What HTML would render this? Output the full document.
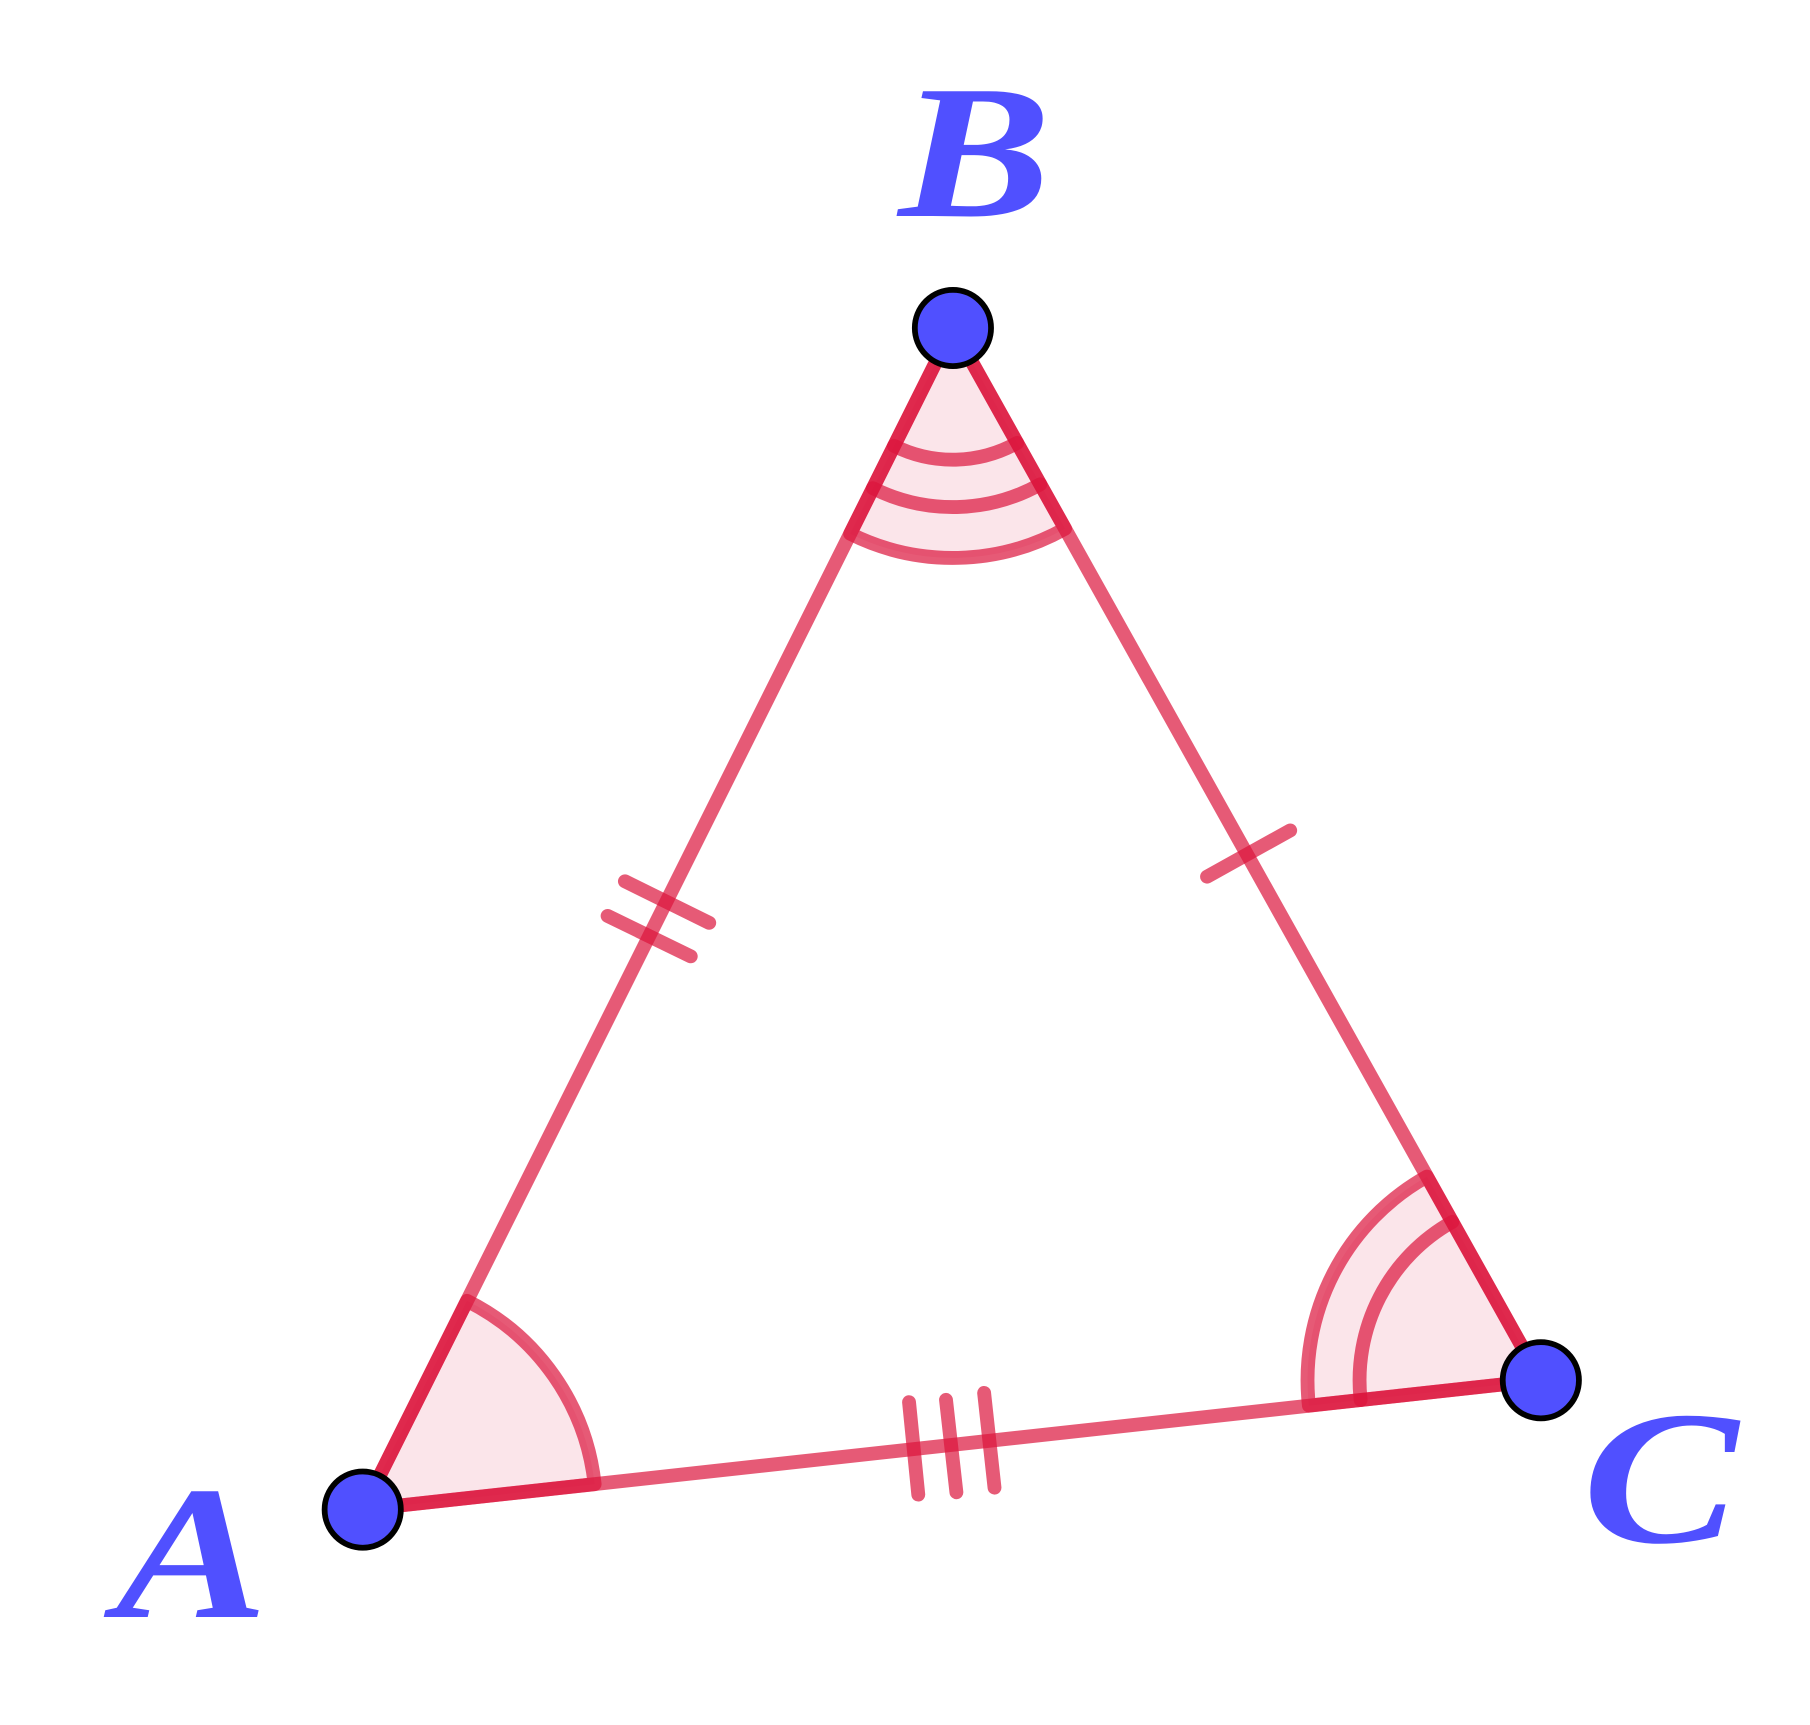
<!DOCTYPE html>
<html><head><meta charset="utf-8"><style>html,body{margin:0;padding:0;background:#fff}svg{display:block}</style></head>
<body>
<svg width="1810" height="1725" viewBox="0 0 1567 1493.5" xmlns="http://www.w3.org/2000/svg">
<g stroke="#dc143c" stroke-opacity="0.7" stroke-width="12" stroke-linecap="round" stroke-linejoin="round" fill="none">
<path d="M314 1307 L404.3 1126.2 A202 202 0 0 1 514.8 1285 Z" fill="#fbe5ea"/>
<path d="M825 284 L736 462.1 A199 199 0 0 0 922.1 457.7 Z" fill="#fbe5ea"/>
<path d="M1334 1195 L1235.4 1018.7 A202 202 0 0 0 1133.2 1217 Z" fill="#fbe5ea"/>
<path d="M774 386 A114 114 0 0 0 880.6 383.5"/>
<path d="M755.7 422.7 A155 155 0 0 0 900.6 419.3"/>
<path d="M1257.4 1057.9 A157 157 0 0 0 1178 1212.1"/>
<line x1="314" y1="1307" x2="825" y2="284"/>
<line x1="825" y1="284" x2="1334" y2="1195"/>
<line x1="314" y1="1307" x2="1334" y2="1195"/>
<line x1="541" y1="763" x2="614" y2="799"/>
<line x1="526" y1="793" x2="598" y2="828"/>
<line x1="1045" y1="759" x2="1117" y2="719"/>
<line x1="787" y1="1214" x2="795" y2="1294"/>
<line x1="819" y1="1212" x2="828" y2="1292"/>
<line x1="852" y1="1206" x2="861" y2="1288"/>
</g>
<g fill="#5050ff" stroke="#000" stroke-width="5">
<circle cx="314" cy="1307" r="33"/>
<circle cx="825" cy="284" r="33"/>
<circle cx="1334" cy="1195" r="33"/>
</g>
<g fill="#5050ff" font-family="Liberation Serif, serif" font-style="italic" font-weight="bold" font-size="165">
<text x="778" y="187" textLength="132" lengthAdjust="spacingAndGlyphs">B</text>
<text x="100" y="1400" textLength="132" lengthAdjust="spacingAndGlyphs">A</text>
<text x="1370" y="1335" textLength="135" lengthAdjust="spacingAndGlyphs">C</text>
</g>
</svg>
</body></html>
